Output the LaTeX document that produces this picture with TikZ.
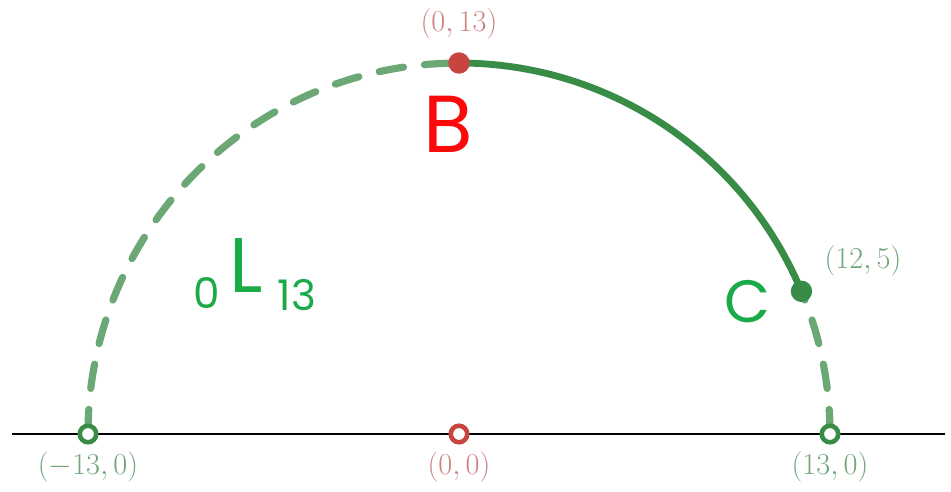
\documentclass[tikz,border=0pt]{standalone}
\usepackage{fontspec}
\newfontfamily\handfont{Poppins}
\definecolor{arcgreen}{RGB}{56,140,70}
\definecolor{dashgreen}{RGB}{108,168,118}
\definecolor{ptred}{RGB}{199,68,64}
\definecolor{lblred}{RGB}{206,132,130}
\definecolor{lblgreen}{RGB}{112,166,122}
\definecolor{handred}{RGB}{250,10,10}
\definecolor{handgreen}{RGB}{26,170,72}
\tikzset{
  openpt/.style={circle, draw=#1, fill=white, line width=2.6pt, minimum size=9.4pt, inner sep=0pt},
  fullpt/.style={circle, fill=#1, minimum size=12.2pt, inner sep=0pt},
  lbl/.style={text=#1, font=\fontsize{17}{20}\selectfont, inner sep=0pt},
  hand/.style={text=#1, font=\handfont, inner sep=0pt},
  dasharc/.style={draw=dashgreen, line width=4.1pt, line cap=round, dash pattern=on 14pt off 12pt},
  solidarc/.style={draw=arcgreen, line width=3.9pt, line cap=round},
}
\begin{document}
\begin{tikzpicture}[x=0.02cm, y=-0.02cm]
\useasboundingbox (0,0) rectangle (951,491);
\coordinate (L) at (12,434);
\coordinate (R) at (945,434);
\coordinate (A) at (88,434);
\coordinate (O) at (459,434);
\coordinate (E) at (830,434);
\coordinate (T) at (459,63);
\coordinate (C) at (801.46,291.31);
% axis
\draw[line width=1.1pt, black] (L) -- (R);
% arcs
\draw[dasharc] (A) arc[start angle=180, end angle=90, radius=7.42cm];
\draw[dasharc] (E) arc[start angle=0, end angle=22.62, radius=7.42cm];
\draw[solidarc] (T) arc[start angle=90, end angle=22.62, radius=7.42cm];
% points
\node[openpt=arcgreen] (pA) at (A) {};
\node[openpt=ptred] (pO) at (O) {};
\node[openpt=arcgreen] (pE) at (E) {};
\node[fullpt=ptred] (pT) at (T) {};
\node[fullpt=arcgreen] (pC) at (C) {};
% labels
\node[lbl=lblred] (tT) at (459,24) {$(0,13)$};
\node[lbl=lblgreen] (tC) at (863,261) {$(12,5)$};
\node[lbl=lblgreen] (tA) at (88,467) {$(-13,0)$};
\node[lbl=lblred] (tO) at (459,467) {$(0,0)$};
\node[lbl=lblgreen] (tE) at (830,467) {$(13,0)$};
% handwriting
\node[hand=handred, font=\handfont\fontsize{46}{50}\selectfont] (hB) at (448,124) {B};
\node[hand=handgreen, font=\handfont\fontsize{34}{40}\selectfont] (hC) at (748,302) {C};
\node[hand=handgreen, font=\handfont\fontsize{24}{28}\selectfont] (h0) at (207,293) {0};
\node[hand=handgreen, font=\handfont\fontsize{44}{50}\selectfont] (hL) at (246,266) {L};
\node[hand=handgreen, font=\handfont\fontsize{24}{28}\selectfont] (h13) at (297,295) {13};
\end{tikzpicture}
\end{document}
